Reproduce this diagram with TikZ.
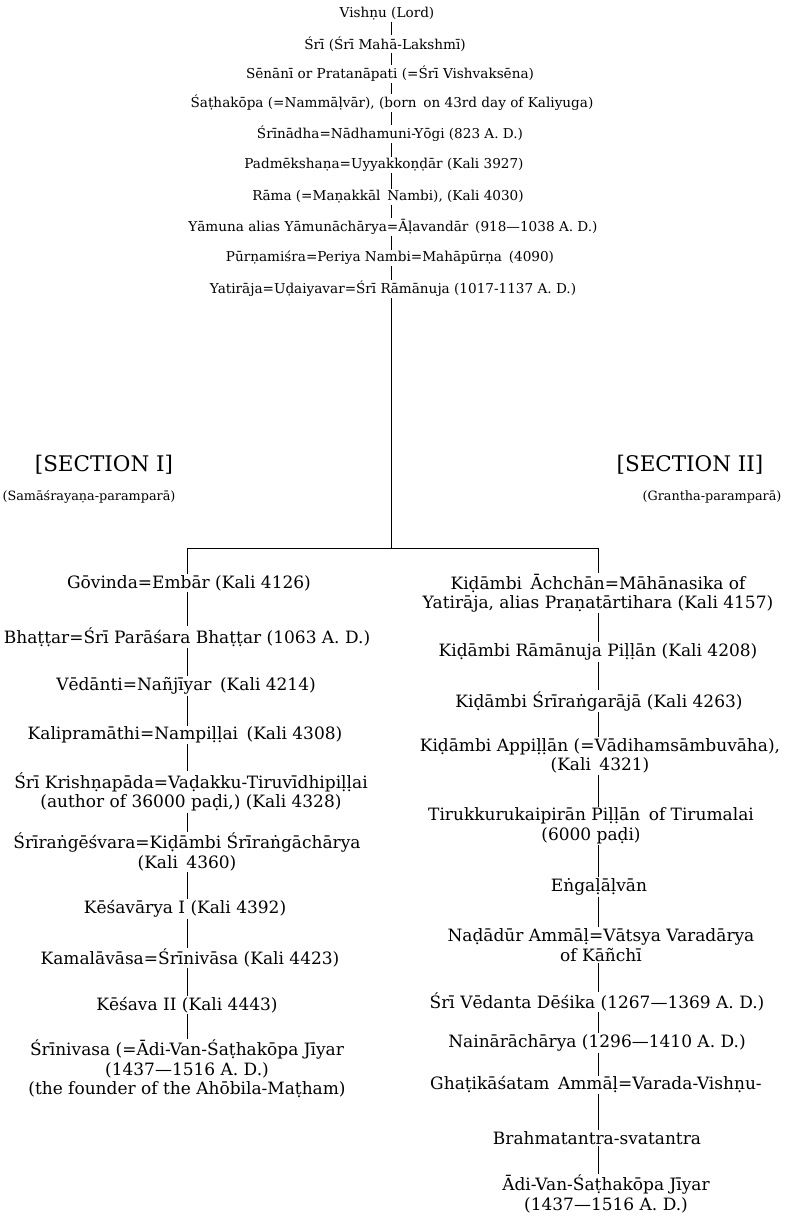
\documentclass[tikz,border=0pt]{standalone}
\usepackage{fontspec}
\setmainfont{DejaVu Serif}
\begin{document}
\begin{tikzpicture}[x=1pt,y=-1pt,
  top/.style={inner sep=1pt, align=center, font=\fontsize{13.6}{16}\selectfont},
  ent/.style={inner sep=1pt, align=center, font=\fontsize{17}{19.5}\selectfont},
  hdr/.style={inner sep=1pt, font=\fontsize{21.5}{24}\selectfont},
  sub/.style={inner sep=1pt, font=\fontsize{12.8}{15}\selectfont},
  link/.style={line width=0.8pt}]
\useasboundingbox (0,0) rectangle (788,1220);
\fill[white] (0,0) rectangle (788,1220);
\coordinate (t) at (391,0);
\coordinate (cl) at (187,0);
\coordinate (cr) at (598,0);
% top trunk
\node[top] (v1) at (387,14) {Vishṇu (Lord)};
\node[top] (v2) at (385,44) {Śrī (Śrī Mahā-Lakshmī)};
\node[top] (v3) at (390,74) {Sēnānī or Pratanāpati (=Śrī Vishvaksēna)};
\node[top] (v4) at (392,103) {Śaṭhakōpa (=Nammāḷvār), (born\enspace on 43rd day of Kaliyuga)};
\node[top] (v5) at (390,134) {Śrīnādha=Nādhamuni-Yōgi (823 A. D.)};
\node[top] (v6) at (384,165) {Padmēkshaṇa=Uyyakkoṇḍār (Kali 3927)};
\node[top] (v7) at (388,197) {Rāma (=Maṇakkāl\enspace Nambi), (Kali 4030)};
\node[top] (v8) at (393,227) {Yāmuna alias Yāmunāchārya=Āḷavandār\enspace (918—1038 A. D.)};
\node[top] (v9) at (390,258) {Pūrṇamiśra=Periya Nambi=Mahāpūrṇa\enspace (4090)};
\node[top] (v10) at (393,289) {Yatirāja=Uḍaiyavar=Śrī Rāmānuja (1017-1137 A. D.)};
\foreach \a/\b in {v1/v2,v2/v3,v3/v4,v4/v5,v5/v6,v6/v7,v7/v8,v8/v9,v9/v10}
  \draw[link] (\a.south -| t) -- (\b.north -| t);
% section headers
\node[hdr] (s1) at (104,465) {[SECTION I]};
\node[sub] (s1b) at (89,497) {(Samāśrayaṇa-paramparā)};
\node[hdr] (s2) at (690,465) {[SECTION II]};
\node[sub] (s2b) at (712,497) {(Grantha-paramparā)};
% bar
\coordinate (bm) at (391,548);
\coordinate (bl) at (187,548);
\coordinate (br) at (598,548);
\draw[link] (v10.south -| t) -- (bm);
\draw[link] (bl) -- (br);
% left column
\node[ent] (l1) at (189,583) {Gōvinda=Embār (Kali 4126)};
\node[ent] (l2) at (187,637) {Bhaṭṭar=Śrī Parāśara Bhaṭṭar (1063 A. D.)};
\node[ent] (l3) at (186,686) {Vēdānti=Nañjīyar\enspace (Kali 4214)};
\node[ent] (l4) at (185,735) {Kalipramāthi=Nampiḷḷai\enspace (Kali 4308)};
\node[ent] (l5) at (191,792) {Śrī Krishṇapāda=Vaḍakku-Tiruvīdhipiḷḷai\\(author of 36000 paḍi,) (Kali 4328)};
\node[ent] (l6) at (187,852) {Śrīraṅgēśvara=Kiḍāmbi Śrīraṅgāchārya\\(Kali\enspace 4360)};
\node[ent] (l7) at (185,909) {Kēśavārya I (Kali 4392)};
\node[ent] (l8) at (190,958) {Kamalāvāsa=Śrīnivāsa (Kali 4423)};
\node[ent] (l9) at (187,1005) {Kēśava II (Kali 4443)};
\node[ent] (l10) at (187,1069) {Śrīnivasa (=Ādi-Van-Śaṭhakōpa Jīyar\\(1437—1516 A. D.)\\(the founder of the Ahōbila-Maṭham)};
\draw[link] (bl) -- (l1.north -| cl);
\foreach \a/\b in {l1/l2,l2/l3,l3/l4,l4/l5,l5/l6,l6/l7,l7/l8,l8/l9,l9/l10}
  \draw[link] (\a.south -| cl) -- (\b.north -| cl);
% right column
\node[ent] (r1) at (598,593) {Kiḍāmbi\enspace Āchchān=Māhānasika of\\Yatirāja, alias Praṇatārtihara (Kali 4157)};
\node[ent] (r2) at (598,652) {Kiḍāmbi Rāmānuja Piḷḷān (Kali 4208)};
\node[ent] (r3) at (599,701) {Kiḍāmbi Śrīraṅgarājā (Kali 4263)};
\node[ent] (r4) at (600,756) {Kiḍāmbi Appiḷḷān (=Vādihamsāmbuvāha),\\(Kali\enspace 4321)};
\node[ent] (r5) at (591,826) {Tirukkurukaipirān Piḷḷān\enspace of Tirumalai\\(6000 paḍi)};
\node[ent] (r6) at (599,887) {Eṅgaḷāḷvān};
\node[ent] (r7) at (601,945) {Naḍādūr Ammāḷ=Vātsya Varadārya\\of Kāñchī};
\node[ent] (r8) at (597,1002) {Śrī Vēdanta Dēśika (1267—1369 A. D.)};
\node[ent] (r9) at (597,1043) {Nainārāchārya (1296—1410 A. D.)};
\node[ent] (r10) at (596,1085) {Ghaṭikāśatam\enspace Ammāḷ=Varada-Vishṇu-};
\node[ent] (r11) at (597,1138) {Brahmatantra-svatantra};
\node[ent] (r12) at (606,1194) {Ādi-Van-Śaṭhakōpa Jīyar\\(1437—1516 A. D.)};
\draw[link] (br) -- (r1.north -| cr);
\foreach \a/\b in {r1/r2,r2/r3,r3/r4,r4/r5,r5/r6,r6/r7,r7/r8,r8/r9,r9/r10,r10/r11,r11/r12}
  \draw[link] (\a.south -| cr) -- (\b.north -| cr);
\end{tikzpicture}
\end{document}
